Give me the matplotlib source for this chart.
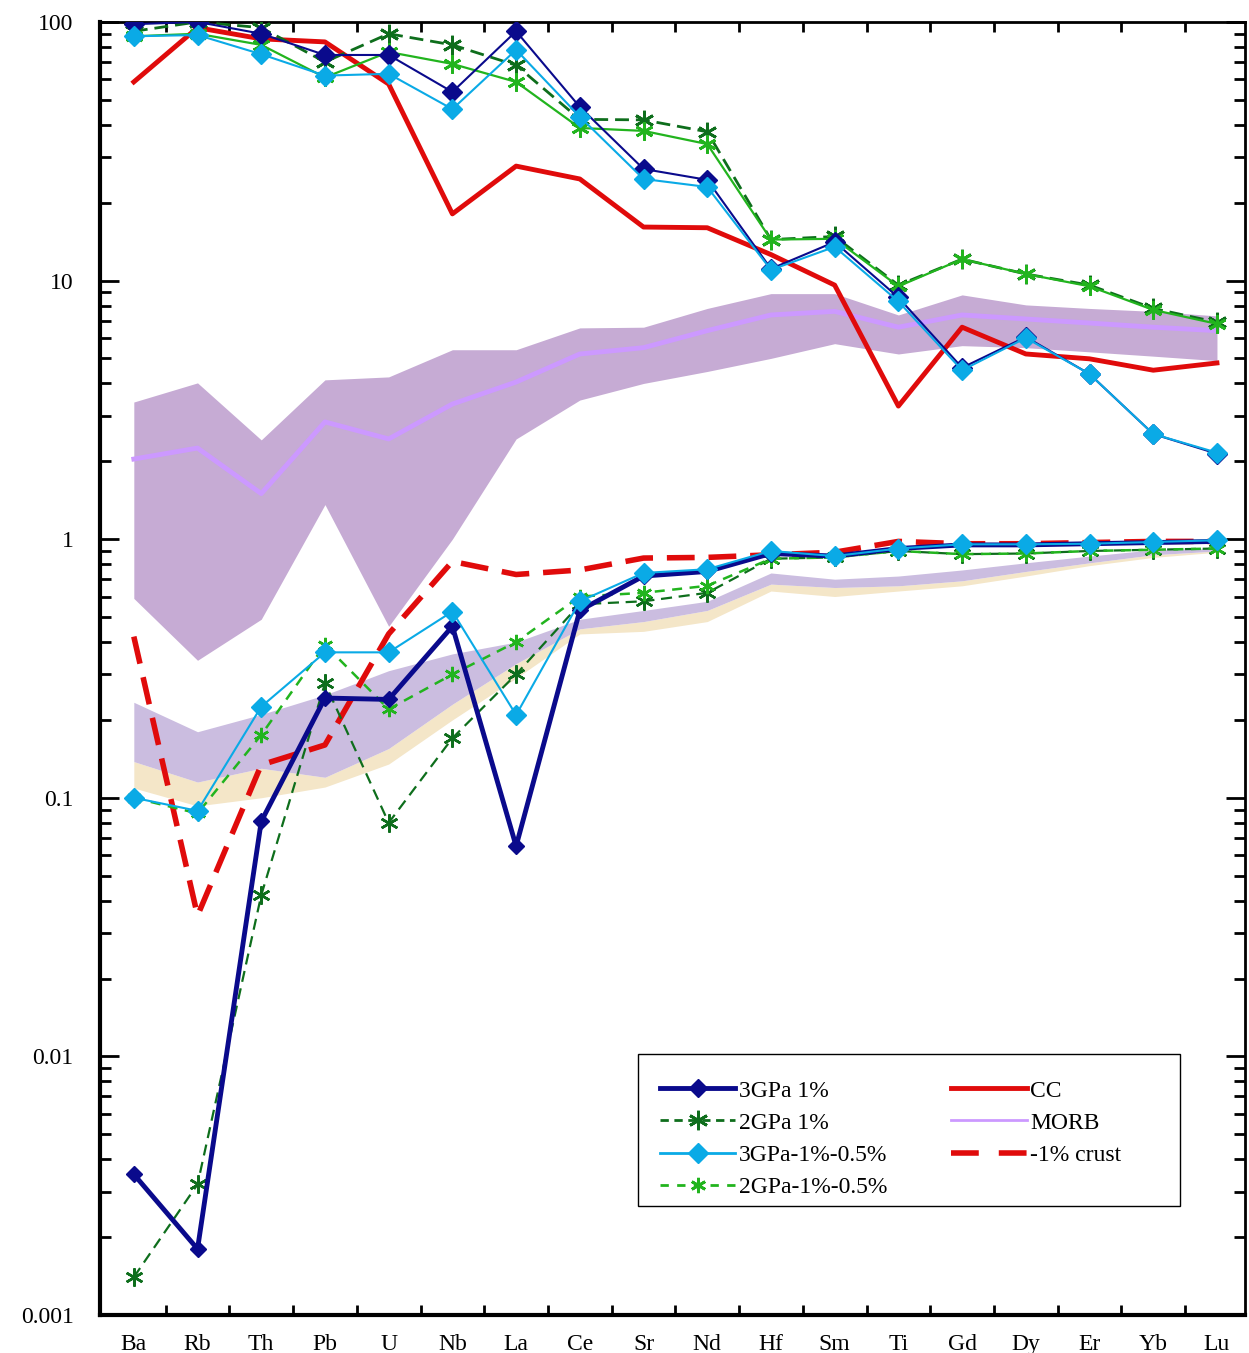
import matplotlib
matplotlib.use("Agg")
import matplotlib.pyplot as plt
from matplotlib.lines import Line2D
from matplotlib.patches import Rectangle
import numpy as np

plt.rcParams['font.family'] = ['Liberation Serif', 'DejaVu Serif']

######################################################################
# data

elements = ['Ba', 'Rb', 'Th', 'Pb', 'U', 'Nb', 'La', 'Ce', 'Sr', 'Nd',
            'Hf', 'Sm', 'Ti', 'Gd', 'Dy', 'Er', 'Yb', 'Lu']

# upper group (melts)
melt_3gpa_1 = [98, 100, 90, 74.5, 74.5, 53.6, 92, 46.9, 27, 24.5,
               11.1, 14.1, 8.6, 4.6, 6.05, 4.35, 2.55, 2.14]
melt_2gpa_1 = [92, 100, 95, 70, 90, 81.5, 68, 42, 41.8, 37.6,
               14.4, 14.8, 9.6, 12.1, 10.6, 9.6, 7.8, 6.9]
melt_3gpa_mix = [88, 89, 75, 62, 63, 46, 78, 43, 24.7, 23,
                 11, 13.5, 8.3, 4.5, 6.0, 4.35, 2.55, 2.16]
melt_2gpa_mix = [88, 90, 81.5, 61, 76.5, 68.8, 58.6, 38.9, 37.9, 33.7,
                 14.4, 14.5, 9.5, 12.1, 10.6, 9.5, 7.7, 6.8]

cc = [58.6, 95, 86, 83.7, 57.5, 18.1, 27.7, 24.7, 16.1, 16.0,
      12.6, 9.6, 3.27, 6.6, 5.2, 4.98, 4.5, 4.8]

morb = [2.04, 2.25, 1.5, 2.84, 2.44, 3.33, 4.05, 5.2, 5.5, 6.4,
        7.36, 7.6, 6.6, 7.36, 7.1, 6.85, 6.6, 6.4]
morb_hi = [3.39, 4.02, 2.42, 4.13, 4.24, 5.4, 5.4, 6.56, 6.6, 7.8,
           8.9, 8.9, 7.36, 8.8, 8.05, 7.8, 7.6, 7.3]
morb_lo = [0.59, 0.34, 0.49, 1.36, 0.46, 1.0, 2.44, 3.45, 4.0, 4.45,
           5.0, 5.7, 5.2, 5.6, 5.5, 5.3, 5.1, 4.9]

# lower group (residues)
res_3gpa_1 = [0.0035, 0.0018, 0.081, 0.243, 0.24, 0.46, 0.065, 0.53, 0.72, 0.75,
              0.88, 0.86, 0.92, 0.95, 0.95, 0.96, 0.97, 0.98]
res_2gpa_1 = [0.0014, 0.0032, 0.042, 0.277, 0.080, 0.17, 0.30, 0.56, 0.575, 0.62,
              0.84, 0.85, 0.90, 0.875, 0.88, 0.90, 0.91, 0.92]
res_3gpa_mix = [0.1, 0.089, 0.225, 0.365, 0.365, 0.525, 0.209, 0.575, 0.74, 0.765,
                0.90, 0.86, 0.92, 0.955, 0.955, 0.96, 0.975, 0.99]
res_2gpa_mix = [0.1, 0.087, 0.175, 0.39, 0.22, 0.30, 0.40, 0.60, 0.62, 0.66,
                0.84, 0.85, 0.90, 0.875, 0.88, 0.90, 0.91, 0.92]
crust_1 = [0.42, 0.035, 0.134, 0.16, 0.43, 0.82, 0.73, 0.76, 0.845, 0.85,
           0.87, 0.89, 0.98, 0.96, 0.96, 0.97, 0.98, 0.98]

# lower shaded bands
lav_hi = [0.234, 0.18, 0.21, 0.25, 0.31, 0.36, 0.40, 0.49, 0.53, 0.575,
          0.74, 0.70, 0.72, 0.76, 0.81, 0.86, 0.91, 0.92]
lav_lo = [0.138, 0.115, 0.13, 0.12, 0.155, 0.23, 0.33, 0.45, 0.48, 0.53,
          0.67, 0.65, 0.66, 0.69, 0.75, 0.81, 0.87, 0.90]
tan_lo = [0.109, 0.093, 0.10, 0.11, 0.135, 0.20, 0.29, 0.43, 0.44, 0.48,
          0.63, 0.60, 0.63, 0.66, 0.72, 0.79, 0.85, 0.89]

legend_labels = ['3GPa 1%', '2GPa 1%', '3GPa-1%-0.5%', '2GPa-1%-0.5%',
                 'CC', 'MORB', '-1% crust']

######################################################################

NAVY = '#0a0a8c'
DKGREEN = '#0e6e1c'
LTBLUE = '#0aaae6'
LTGREEN = '#22b41e'
RED = '#e00b0b'
MORBLINE = '#cc99ff'
MORBFILL = '#c6abd4'

x = np.arange(len(elements))

fig = plt.figure(figsize=(12.49, 13.53), dpi=100)
ax = fig.add_axes([0.0801, 0.0281, 0.9167, 0.9557])

# bands
ax.fill_between(x, morb_lo, morb_hi, color=MORBFILL, lw=0, zorder=1)
ax.fill_between(x, tan_lo, lav_lo, color='#f4e6c8', lw=0, zorder=1)
ax.fill_between(x, lav_lo, lav_hi, color='#cbbde0', lw=0, zorder=1)
ax.plot(x, morb, color=MORBLINE, lw=3.5, zorder=2)

star = (6, 2, 0)

# upper group
ax.plot(x, cc, color=RED, lw=3.5, zorder=3)
ax.plot(x, melt_2gpa_1, color=DKGREEN, lw=2, dashes=(5, 2.5), marker=star,
        ms=14, mew=2, zorder=4)
ax.plot(x, melt_2gpa_mix, color=LTGREEN, lw=1.6, marker=star, ms=13, mew=2, zorder=4)
ax.plot(x, melt_3gpa_1, color=NAVY, lw=1.5, marker='D', ms=10, zorder=5)
ax.plot(x, melt_3gpa_mix, color=LTBLUE, lw=1.5, marker='D', ms=10, zorder=5)

# lower group
ax.plot(x, crust_1, color=RED, lw=4, dashes=(5, 2.5), zorder=3)
ax.plot(x, res_2gpa_1, color=DKGREEN, lw=1.6, dashes=(5, 3), marker=star,
        ms=13, mew=1.8, zorder=4)
ax.plot(x, res_2gpa_mix, color=LTGREEN, lw=1.8, dashes=(4, 3), marker=star,
        ms=11, mew=1.8, zorder=4)
ax.plot(x, res_3gpa_1, color=NAVY, lw=3.5, marker='D', ms=8, zorder=5)
ax.plot(x, res_3gpa_mix, color=LTBLUE, lw=1.5, marker='D', ms=10, zorder=5)

# axes
ax.set_yscale('log')
ax.set_ylim(0.001, 100)
ax.set_xlim(-0.53, 17.44)
ax.set_yticks([0.001, 0.01, 0.1, 1, 10, 100])
ax.set_yticklabels(['0.001', '0.01', '0.1', '1', '10', '100'])
ax.set_xticks(x)
ax.set_xticklabels(elements)
ax.set_xticks(x[:-1] + 0.5, minor=True)
ax.tick_params(axis='x', which='major', length=0, pad=14, labelsize=17)
ax.tick_params(axis='x', which='minor', direction='in', length=7, width=2,
               top=True, bottom=True)
ax.tick_params(axis='y', which='major', direction='in', length=14, width=2,
               left=True, right=True, pad=19, labelsize=17)
ax.tick_params(axis='y', which='minor', direction='in', length=8, width=2,
               left=True, right=True)
for s in ax.spines.values():
    s.set_linewidth(2)
ax.spines['left'].set_linewidth(3)
ax.spines['bottom'].set_linewidth(3)

# legend: box drawn separately, entries placed inside it
ax.add_patch(Rectangle((0.4699, 0.0843), 0.4734, 0.1176, transform=ax.transAxes,
                       facecolor='white', edgecolor='black', lw=1, zorder=8))
handles = [
    Line2D([], [], color=NAVY, lw=3.5, marker='D', ms=9),
    Line2D([], [], color=DKGREEN, lw=2, dashes=(3, 2), marker=star, ms=14, mew=2),
    Line2D([], [], color=LTBLUE, lw=2, marker='D', ms=10),
    Line2D([], [], color=LTGREEN, lw=2, dashes=(3, 3), marker=star, ms=11, mew=2),
    Line2D([], [], color=RED, lw=3.5),
    Line2D([], [], color=MORBLINE, lw=2),
    Line2D([], [], color=RED, lw=4, dashes=(5, 3.6)),
]
leg = ax.legend(handles, legend_labels, ncol=2, loc='upper left',
                bbox_to_anchor=(0.489, 0.1817), fontsize=17, frameon=False,
                handlelength=3.2, handletextpad=0.15, columnspacing=2.7,
                labelspacing=0.45, borderpad=0, borderaxespad=0)
leg.set_zorder(9)

fig.savefig('out.png', dpi=100)
